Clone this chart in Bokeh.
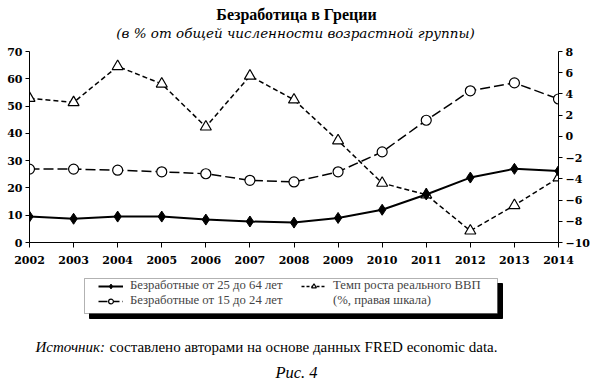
from bokeh.plotting import figure
from bokeh.models import (LinearAxis, Range1d, FixedTicker, Label, Legend, LegendItem,
                          BoxAnnotation)
from bokeh.layouts import column
from bokeh.embed import file_html
from bokeh.resources import INLINE

years = [2002, 2003, 2004, 2005, 2006, 2007, 2008, 2009, 2010, 2011, 2012, 2013, 2014]
unemp_25_64 = [9.5, 8.7, 9.5, 9.5, 8.4, 7.7, 7.3, 9.0, 12.0, 17.6, 23.8, 27.0, 26.2]
unemp_15_24 = [26.9, 26.9, 26.5, 25.9, 25.2, 22.8, 22.2, 25.9, 33.2, 44.8, 55.6, 58.5, 52.6]
gdp_growth = [3.6, 3.2, 6.6, 4.95, 0.9, 5.7, 3.45, -0.4, -4.4, -5.5, -8.9, -6.5, -3.9]

left_ticks = [0, 10, 20, 30, 40, 50, 60, 70]
right_ticks = [-10, -8, -6, -4, -2, 0, 2, 4, 6, 8]
right_tick_labels = {t: (str(t).replace("-", "\u2212")) for t in right_ticks}

title_text = "Безработица в Греции"
subtitle_text = "(в % от общей численности возрастной группы)"
label_25_64 = "Безработные от 25 до 64 лет"
label_15_24 = "Безработные от 15 до 24 лет"
label_gdp = "Темп роста реального ВВП"
label_gdp2 = "(%, правая шкала)"
source_italic = "Источник:"
source_text = "составлено авторами на основе данных FRED economic data."
fig_caption = "Рис. 4"

SERIF = "Liberation Serif"
TICKF = "DejaVu Serif"
GDP_DASH = "5 3"
Y_DASH = "10 4"

def bare(fig):
    fig.grid.visible = False
    fig.outline_line_color = None
    return fig

def add_label(fig, text, x, y, size, style="normal", font=SERIF, align="left"):
    fig.add_layout(Label(x=x, y=y, text=text,
                         text_font=font, text_font_size=size, text_font_style=style,
                         text_align=align, text_baseline="middle", text_color="black"))

# ---------------- heading (data units = page pixels) ----------------
t = bare(figure(width=595, height=44, output_backend="svg", toolbar_location=None,
                x_range=Range1d(29, 558), y_range=Range1d(0, 44),
                min_border_left=29, min_border_right=37, min_border_top=0, min_border_bottom=0,
                x_axis_location=None, y_axis_location=None))
add_label(t, title_text, 296, 30, "16px", "bold", SERIF, "center")
add_label(t, subtitle_text, 295, 12, "13.5px", "italic", "DejaVu Serif", "center")

# ---------------- main chart ----------------
p = bare(figure(width=595, height=226, output_backend="svg", toolbar_location=None,
                x_range=Range1d(2002, 2014), y_range=Range1d(0, 70),
                min_border_left=29, min_border_right=37, min_border_top=7, min_border_bottom=28,
                x_axis_location=None, y_axis_location=None))
p.extra_y_ranges = {"gdp": Range1d(-10, 8)}

def style_axis(ax):
    ax.major_label_text_font = TICKF
    ax.major_label_text_font_size = "11px"
    ax.major_label_text_font_style = "bold"
    ax.major_label_text_color = "black"
    ax.axis_line_color = "black"
    ax.axis_line_width = 1
    ax.major_tick_line_color = "black"
    ax.minor_tick_line_color = None
    ax.major_tick_in = 0

xax = LinearAxis(ticker=FixedTicker(ticks=years))
style_axis(xax)
xax.major_tick_out = 5
xax.major_label_standoff = 8
p.add_layout(xax, "below")

lax = LinearAxis(ticker=FixedTicker(ticks=left_ticks))
style_axis(lax)
lax.major_tick_out = 4
lax.major_label_standoff = 3
p.add_layout(lax, "left")

rax = LinearAxis(y_range_name="gdp", ticker=FixedTicker(ticks=right_ticks),
                 major_label_overrides=right_tick_labels)
style_axis(rax)
rax.major_tick_out = 4
rax.major_label_standoff = 3
p.add_layout(rax, "right")

p.line(years, gdp_growth, y_range_name="gdp", line_color="black", line_width=1.5, line_dash=GDP_DASH)
p.scatter(years, gdp_growth, y_range_name="gdp", marker="triangle", size=11,
          fill_color="white", line_color="black", line_width=1.2)
p.line(years, unemp_15_24, line_color="black", line_width=1.5, line_dash=Y_DASH)
p.scatter(years, unemp_15_24, marker="circle", size=10,
          fill_color="white", line_color="black", line_width=1.2)
p.line(years, unemp_25_64, line_color="black", line_width=2)
p.scatter(years, unemp_25_64, marker="diamond", size=11, fill_color="black", line_color="black")

# ---------------- legend + source panel (data units = page pixels) ----------------
q = bare(figure(width=595, height=114, output_backend="svg", toolbar_location=None,
                x_range=Range1d(29, 558), y_range=Range1d(0, 114),
                min_border_left=29, min_border_right=37, min_border_top=0, min_border_bottom=0,
                x_axis_location=None, y_axis_location=None))

# legend box: drop shadow, then white framed box
q.quad(left=[89], right=[502], bottom=[66], top=[101], fill_color="black", line_color="black")
q.add_layout(BoxAnnotation(left=84, right=497, bottom=71, top=106,
                           fill_color="white", fill_alpha=1, line_color="black", line_width=1))

# legend key renderers (hidden copies of the series, used only for their styles)
l25 = q.line(years, unemp_25_64, line_color="black", line_width=2, visible=False)
m25 = q.scatter(years, unemp_25_64, marker="diamond", size=9, fill_color="black",
                line_color="black", visible=False)
l15 = q.line(years, unemp_15_24, line_color="black", line_width=1.5, line_dash="9 3", visible=False)
m15 = q.scatter(years, unemp_15_24, marker="circle", size=8, fill_color="white",
                line_color="black", line_width=1.2, visible=False)
lg = q.line(years, gdp_growth, line_color="black", line_width=1.5, line_dash="3 2", visible=False)
mg = q.scatter(years, gdp_growth, marker="triangle", size=9, fill_color="white",
               line_color="black", line_width=1.2, visible=False)

def make_legend(items, x):
    lg_ = Legend(items=items, location=(x - 29, 76), orientation="vertical")
    lg_.label_text_font = SERIF
    lg_.label_text_font_size = "12.7px"
    lg_.label_height = 12
    lg_.glyph_height = 12
    lg_.glyph_width = 25
    lg_.label_standoff = 7
    lg_.spacing = 0
    lg_.padding = 0
    lg_.margin = 0
    lg_.border_line_color = None
    lg_.background_fill_alpha = 0
    lg_.inactive_fill_alpha = 0
    lg_.click_policy = "none"
    return lg_

q.add_layout(make_legend([
    LegendItem(label=label_25_64, renderers=[l25, m25]),
    LegendItem(label=label_15_24, renderers=[l15, m15]),
], 98))
q.add_layout(make_legend([
    LegendItem(label=label_gdp, renderers=[lg, mg]),
    LegendItem(label=label_gdp2, renderers=[]),
], 301))

add_label(q, source_italic, 35, 38, "15px", "italic")
add_label(q, source_text, 109, 38, "15px")
add_label(q, fig_caption, 296, 12, "16.5px", "italic", SERIF, "center")

layout = column(t, p, q, spacing=0)
open("out.html", "w").write(file_html(layout, INLINE))
